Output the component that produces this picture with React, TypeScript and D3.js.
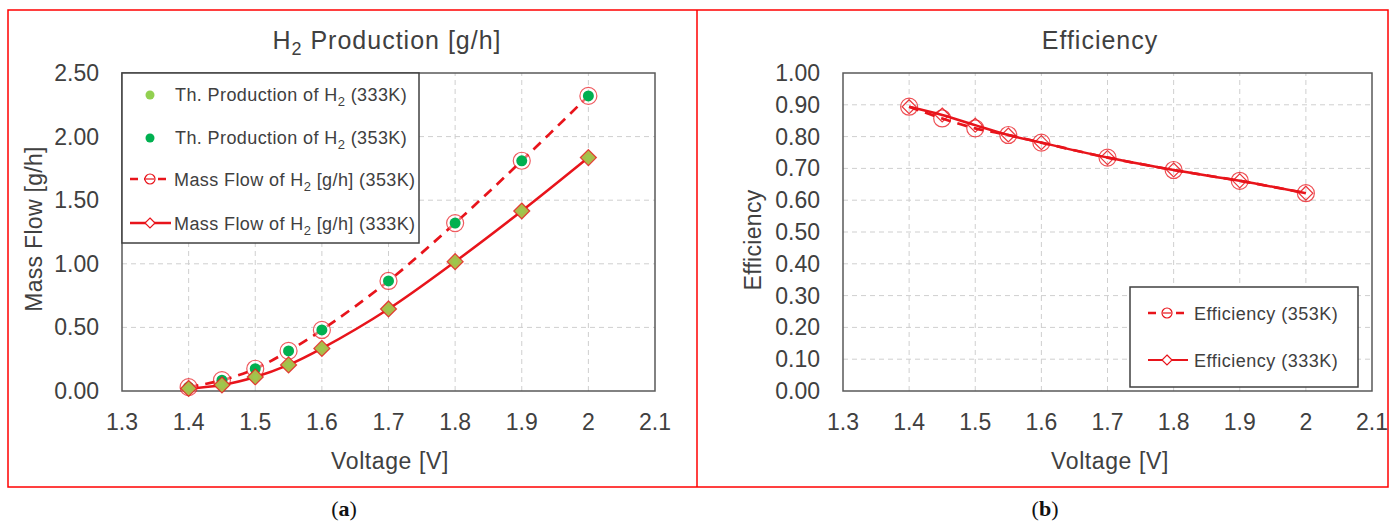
import React from 'react';
import * as d3 from 'd3';

// voltage points shared by every series
const volts = [1.4, 1.45, 1.5, 1.55, 1.6, 1.7, 1.8, 1.9, 2.0];

// (a) H2 production [g/h]
const massFlow353 = [0.03, 0.085, 0.175, 0.315, 0.48, 0.865, 1.32, 1.81, 2.32];
const massFlow333 = [0.02, 0.047, 0.11, 0.205, 0.335, 0.645, 1.017, 1.415, 1.835];
const thProd353 = [0.03, 0.085, 0.175, 0.315, 0.48, 0.865, 1.32, 1.81, 2.32];
const thProd333 = [0.02, 0.047, 0.11, 0.205, 0.335, 0.645, 1.017, 1.415, 1.835];

// (b) efficiency
const eff353 = [0.894, 0.857, 0.826, 0.805, 0.781, 0.734, 0.695, 0.661, 0.622];
const eff333 = [0.894, 0.868, 0.836, 0.805, 0.781, 0.734, 0.695, 0.661, 0.622];

const xTicks = [1.3, 1.4, 1.5, 1.6, 1.7, 1.8, 1.9, 2.0, 2.1];
const yTicksA = [0, 0.5, 1.0, 1.5, 2.0, 2.5];
const yTicksB = [0, 0.1, 0.2, 0.3, 0.4, 0.5, 0.6, 0.7, 0.8, 0.9, 1.0];

const FONT = '"Liberation Sans", Arial, sans-serif';
const TXT = '#404040';
const RED = '#e8141b';
const GREEN = '#00b050';
const LGREEN = '#92d050';
const OLIVE = '#acba4a';

const diamond = (cx: number, cy: number, r: number) =>
  `M${cx},${cy - r}L${cx + r},${cy}L${cx},${cy + r}L${cx - r},${cy}Z`;

function Axes({ x, y, yTicks, fmt }: any) {
  const [x0, x1] = x.range();
  const [y0, y1] = y.range();
  return (
    <g fontFamily={FONT} fill={TXT}>
      {xTicks.slice(1, -1).map(t => (
        <line key={'gx' + t} x1={x(t)} x2={x(t)} y1={y0} y2={y1} stroke="#cfcfcf" strokeDasharray="5,4" />
      ))}
      {yTicks.slice(1, -1).map((t: number) => (
        <line key={'gy' + t} x1={x0} x2={x1} y1={y(t)} y2={y(t)} stroke="#cfcfcf" strokeDasharray="5,4" />
      ))}
      <rect x={x0} y={y1} width={x1 - x0} height={y0 - y1} fill="none" stroke="#595959" strokeWidth={1.5} />
      {xTicks.map(t => (
        <text key={'tx' + t} x={x(t)} y={y0 + 39} textAnchor="middle" fontSize={23}>
          {d3.format('')(+t.toFixed(1))}
        </text>
      ))}
      {yTicks.map((t: number) => (
        <text key={'ty' + t} x={x0 - 23} y={y(t) + 8} textAnchor="end" fontSize={23}>
          {fmt(t)}
        </text>
      ))}
    </g>
  );
}

function Panel1() {
  const x = d3.scaleLinear().domain([1.3, 2.1]).range([122, 655]);
  const y = d3.scaleLinear().domain([0, 2.5]).range([391, 73]);
  const line = d3.line<number>().x((_, i) => x(volts[i])).y(d => y(d)).curve(d3.curveCatmullRom.alpha(0.5));
  return (
    <g>
      <Axes x={x} y={y} yTicks={yTicksA} fmt={d3.format('.2f')} />
      <path d={line(massFlow353) || ''} fill="none" stroke={RED} strokeWidth={2.7} strokeDasharray="10,7" />
      <path d={line(massFlow333) || ''} fill="none" stroke={RED} strokeWidth={2.5} />
      {massFlow353.map((v, i) => (
        <circle key={'c' + i} cx={x(volts[i])} cy={y(v)} r={8.5} fill="#fff" fillOpacity={0.4} stroke={RED} strokeOpacity={0.7} strokeWidth={1.2} />
      ))}
      {thProd353.map((v, i) => (
        <circle key={'g' + i} cx={x(volts[i])} cy={y(v)} r={5.5} fill={GREEN} />
      ))}
      {massFlow333.map((v, i) => (
        <path key={'d' + i} d={diamond(x(volts[i]), y(v), 8)} fill={OLIVE} stroke={RED} strokeOpacity={0.8} strokeWidth={1.2} />
      ))}
      {thProd333.map((v, i) => (
        <circle key={'l' + i} cx={x(volts[i])} cy={y(v)} r={3} fill={LGREEN} fillOpacity={0.6} />
      ))}
      {/* legend */}
      <g fontFamily={FONT} fill={TXT} fontSize={18} letterSpacing={0.4}>
        <rect x={122} y={73} width={297} height={170} fill="#fff" stroke="#404040" strokeWidth={1.5} />
        <circle cx={150} cy={95} r={4.5} fill={LGREEN} />
        <text x={175} y={101}>Th. Production of H<tspan fontSize={13} dy={5}>2</tspan><tspan dy={-5}> (333K)</tspan></text>
        <circle cx={150} cy={138} r={4.5} fill={GREEN} />
        <text x={175} y={144}>Th. Production of H<tspan fontSize={13} dy={5}>2</tspan><tspan dy={-5}> (353K)</tspan></text>
        <line x1={130} x2={171} y1={179} y2={179} stroke={RED} strokeWidth={2.5} strokeDasharray="8,6" />
        <circle cx={150} cy={179} r={5} fill="#fff" stroke={RED} strokeWidth={1.2} />
        <line x1={146} x2={154} y1={179} y2={179} stroke={RED} strokeWidth={1.2} />
        <text x={174} y={185.5}>Mass Flow of H<tspan fontSize={13} dy={5}>2</tspan><tspan dy={-5}> [g/h] (353K)</tspan></text>
        <line x1={130} x2={171} y1={223} y2={223} stroke={RED} strokeWidth={2.5} />
        <path d={diamond(150, 223, 5)} fill="#fff" stroke={RED} strokeWidth={1.2} />
        <text x={174} y={229.5}>Mass Flow of H<tspan fontSize={13} dy={5}>2</tspan><tspan dy={-5}> [g/h] (333K)</tspan></text>
      </g>
      <g fontFamily={FONT} fill={TXT}>
        <text x={387} y={48.5} textAnchor="middle" fontSize={25} letterSpacing={1}>
          H<tspan fontSize={18} dy={6}>2</tspan><tspan dy={-6}> Production [g/h]</tspan>
        </text>
        <text x={390} y={468.5} textAnchor="middle" fontSize={23} letterSpacing={0.6}>Voltage [V]</text>
        <text transform="translate(42,229) rotate(-90)" textAnchor="middle" fontSize={23} letterSpacing={0.3}>Mass Flow [g/h]</text>
      </g>
    </g>
  );
}

function Panel2() {
  const x = d3.scaleLinear().domain([1.3, 2.1]).range([843, 1372]);
  const y = d3.scaleLinear().domain([0, 1.0]).range([391, 73]);
  const line = d3.line<number>().x((_, i) => x(volts[i])).y(d => y(d)).curve(d3.curveCatmullRom.alpha(0.5));
  return (
    <g>
      <Axes x={x} y={y} yTicks={yTicksB} fmt={d3.format('.2f')} />
      <path d={line(eff353) || ''} fill="none" stroke={RED} strokeWidth={2.7} strokeDasharray="10,7" />
      <path d={line(eff333) || ''} fill="none" stroke={RED} strokeWidth={2.5} />
      {eff353.map((v, i) => (
        <circle key={'c' + i} cx={x(volts[i])} cy={y(v)} r={8.5} fill="none" stroke={RED} strokeOpacity={0.75} strokeWidth={1.2} />
      ))}
      {eff333.map((v, i) => (
        <path key={'d' + i} d={diamond(x(volts[i]), y(v), 7)} fill="none" stroke={RED} strokeOpacity={0.85} strokeWidth={1.2} />
      ))}
      <g fontFamily={FONT} fill={TXT} fontSize={18} letterSpacing={0.5}>
        <rect x={1130} y={287} width={228} height={100} fill="#fff" stroke="#404040" strokeWidth={1.5} />
        <line x1={1148} x2={1188} y1={313} y2={313} stroke={RED} strokeWidth={2.5} strokeDasharray="8,6" />
        <circle cx={1167} cy={313} r={5} fill="#fff" stroke={RED} strokeWidth={1.2} />
        <line x1={1163} x2={1171} y1={313} y2={313} stroke={RED} strokeWidth={1.2} />
        <text x={1194} y={319.5}>Efficiency (353K)</text>
        <line x1={1148} x2={1188} y1={360} y2={360} stroke={RED} strokeWidth={2} />
        <path d={diamond(1167, 360, 5)} fill="#fff" stroke={RED} strokeWidth={1.2} />
        <text x={1194} y={366.5}>Efficiency (333K)</text>
      </g>
      <g fontFamily={FONT} fill={TXT}>
        <text x={1100} y={49} textAnchor="middle" fontSize={25} letterSpacing={1}>Efficiency</text>
        <text x={1110} y={468.5} textAnchor="middle" fontSize={23} letterSpacing={0.6}>Voltage [V]</text>
        <text transform="translate(761,240) rotate(-90)" textAnchor="middle" fontSize={23} letterSpacing={0.3}>Efficiency</text>
      </g>
    </g>
  );
}

export default function App() {
  return (
    <div style={{ position: 'absolute', left: 0, top: 0 }}>
      <svg width={1396} height={524} style={{ display: 'block', background: '#fff' }}>
        <rect x={8} y={10} width={1380} height={477} fill="none" stroke="#ff0000" strokeWidth={1.5} />
        <line x1={697} x2={697} y1={10} y2={487} stroke="#ff0000" strokeWidth={1.5} />
        <Panel1 />
        <Panel2 />
        <g fontFamily='"Liberation Serif", "Times New Roman", serif' fontSize={22} fill="#111">
          <text x={344} y={516} textAnchor="middle">(<tspan fontWeight="bold">a</tspan>)</text>
          <text x={1045} y={516} textAnchor="middle">(<tspan fontWeight="bold">b</tspan>)</text>
        </g>
      </svg>
    </div>
  );
}
